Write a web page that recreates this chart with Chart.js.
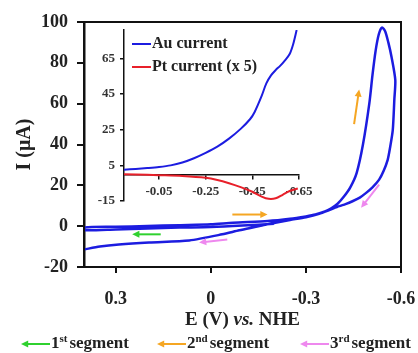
<!DOCTYPE html>
<html>
<head>
<meta charset="utf-8">
<script src="https://cdn.jsdelivr.net/npm/chart.js@4.4.0/dist/chart.umd.min.js"></script>
<style>
  body { margin: 0; background: #fff; }
  #wrap { position: relative; width: 418px; height: 353px; }
  #mainChart { position: absolute; left: 0; top: 0; }
  #insetChart { position: absolute; left: 64px; top: 8px; pointer-events: none; }
</style>
</head>
<body>
<div id="wrap">
  <canvas id="mainChart" width="418" height="353"></canvas>
  <canvas id="insetChart" width="260" height="210"></canvas>
</div>
<script>
// kurva CV utama: segmen 1 (ke kiri), segmen 2 (ke kanan), segmen 3 (kembali)
const cvPotential = [
  -0.20, -0.10, 0.00, 0.10, 0.20, 0.30, 0.40,
  0.40, 0.30, 0.20, 0.10, 0.00, -0.07, -0.18, -0.25, -0.30, -0.33, -0.36, -0.38, -0.40, -0.42,
  -0.44, -0.46, -0.48, -0.50, -0.51, -0.52, -0.53, -0.54, -0.55, -0.56, -0.57, -0.582,
  -0.579, -0.574, -0.565, -0.558, -0.545, -0.531, -0.51, -0.49, -0.47, -0.447, -0.425, -0.405,
  -0.37, -0.342, -0.30, -0.25, -0.216, -0.175, -0.142, -0.09, -0.036, 0.068, 0.195, 0.29, 0.35, 0.40
];
const cvCurrent = [
  1.2, 0.3, -0.4, -0.7, -1.1, -1.6, -2.0,
  -0.6, -0.3, 0.1, 0.5, 0.9, 1.7, 2.5, 3.6, 4.8, 5.7, 7.2, 8.8, 11.0, 14.5,
  19.0, 26.0, 40.0, 60.0, 74.0, 86.0, 94.0, 97.3, 95.5, 90.0, 83.0, 71.6,
  62.0, 47.0, 38.0, 32.5, 27.0, 22.8, 19.0, 16.3, 14.0, 12.2, 10.8, 9.8,
  7.6, 6.0, 4.4, 3.0, 2.0, 0.8, -0.3, -2.0, -4.0, -7.0, -8.0, -9.0, -10.0, -11.4
];
const mainTicksE = [0.3, 0, -0.3, -0.6];
const mainTicksI = [-20, 0, 20, 40, 60, 80, 100];

// inset: arus Au dan arus Pt (x 5)
const auPotential = [0.10, 0.05, 0.00, -0.05, -0.10, -0.15, -0.20, -0.25, -0.30, -0.35, -0.40, -0.44,
  -0.46, -0.49, -0.51, -0.53, -0.55, -0.57, -0.59, -0.61, -0.625, -0.64];
const auCurrent = [2.6, 3.0, 3.5, 4.1, 5.0, 6.6, 9.0, 12.0, 15.5, 20.0, 25.5, 30.9,
  35.0, 44.0, 51.0, 55.5, 58.5, 61.0, 64.0, 67.5, 73.0, 81.0];
const ptPotential = [0.10, 0.00, -0.05, -0.15, -0.25, -0.30, -0.35, -0.40, -0.45, -0.49, -0.52, -0.55, -0.58, -0.61, -0.645];
const ptCurrent = [0.0, -0.3, -0.5, -1.0, -2.0, -3.2, -5.0, -7.2, -9.8, -12.5, -13.8, -13.5, -11.5, -9.4, -8.0];
const insetTicksE = [-0.05, -0.25, -0.45, -0.65];
const insetTicksI = [-15, 5, 25, 45, 65];

const seriesNames = ['Au current', 'Pt current (x 5)'];
const segmentNums = ['1', '2', '3'];
const segmentSups = ['st', 'nd', 'rd'];

const SERIF = '"Liberation Serif", "DejaVu Serif", serif';
const BLUE = '#1c1ce0';
const RED = '#e8202a';
const segmentColors = ['#2fd12f', '#f5a623', '#ee88ee'];

// panah arah scan, dalam koordinat data (E, I)
const scanArrows = [
  { from: [0.158, -4.0], to: [0.248, -4.0], seg: 0 },
  { from: [-0.068, 5.7], to: [-0.179, 5.7], seg: 1 },
  { from: [-0.452, 50], to: [-0.468, 67], seg: 1 },
  { from: [-0.531, 20.3], to: [-0.474, 9.0], seg: 2 },
  { from: [-0.052, -6.5], to: [0.037, -8.0], seg: 2 }
];

function toPoints(xs, ys) {
  return xs.map((x, i) => ({ x: x, y: ys[i] }));
}

// buang padding label supaya chartArea pas dengan layout.padding
function noLabelPadding(s) {
  s.paddingLeft = 0;
  s.paddingRight = 0;
  s.paddingTop = 0;
  s.paddingBottom = 0;
}

function drawArrow(ctx, x1, y1, x2, y2, color) {
  const ang = Math.atan2(y2 - y1, x2 - x1);
  const head = 8;
  ctx.save();
  ctx.strokeStyle = color;
  ctx.fillStyle = color;
  ctx.lineWidth = 2;
  ctx.beginPath();
  ctx.moveTo(x1, y1);
  ctx.lineTo(x2 - Math.cos(ang) * head * 0.7, y2 - Math.sin(ang) * head * 0.7);
  ctx.stroke();
  ctx.beginPath();
  ctx.moveTo(x2, y2);
  ctx.lineTo(x2 - head * Math.cos(ang - 0.45), y2 - head * Math.sin(ang - 0.45));
  ctx.lineTo(x2 - head * Math.cos(ang + 0.45), y2 - head * Math.sin(ang + 0.45));
  ctx.closePath();
  ctx.fill();
  ctx.restore();
}

const mainDecor = {
  id: 'mainDecor',
  afterDraw(chart) {
    const { ctx, chartArea: a, scales } = chart;
    // bingkai
    ctx.save();
    ctx.strokeStyle = '#111';
    ctx.lineWidth = 2;
    ctx.strokeRect(a.left, a.top, a.right - a.left, a.bottom - a.top);
    ctx.restore();

    scanArrows.forEach((ar) => {
      drawArrow(ctx,
        scales.x.getPixelForValue(ar.from[0]), scales.y.getPixelForValue(ar.from[1]),
        scales.x.getPixelForValue(ar.to[0]), scales.y.getPixelForValue(ar.to[1]),
        segmentColors[ar.seg]);
    });

    // judul sumbu x: E (V) vs. NHE
    const parts = [['E (V) ', 'bold'], ['vs.', 'italic bold'], [' NHE', 'bold']];
    ctx.save();
    ctx.fillStyle = '#222';
    ctx.textBaseline = 'middle';
    let total = 0;
    parts.forEach((p) => { ctx.font = p[1] + ' 19px ' + SERIF; total += ctx.measureText(p[0]).width; });
    let x = (a.left + a.right) / 2 - total / 2;
    parts.forEach((p) => {
      ctx.font = p[1] + ' 19px ' + SERIF;
      ctx.fillText(p[0], x, 320);
      x += ctx.measureText(p[0]).width;
    });

    // legenda segmen
    const starts = [21, 157, 300];
    const arrowLen = 29;
    segmentNums.forEach((n, i) => {
      const y = 344;
      drawArrow(ctx, starts[i] + arrowLen, y, starts[i], y, segmentColors[i]);
      let tx = starts[i] + arrowLen + 1;
      ctx.fillStyle = '#222';
      ctx.font = 'bold 17px ' + SERIF;
      ctx.fillText(n, tx, y);
      tx += ctx.measureText(n).width;
      ctx.font = 'bold 11px ' + SERIF;
      ctx.fillText(segmentSups[i], tx, y - 5);
      tx += ctx.measureText(segmentSups[i]).width + 2;
      ctx.font = 'bold 17px ' + SERIF;
      ctx.fillText('segment', tx, y);
    });
    ctx.restore();
  }
};

new Chart(document.getElementById('mainChart'), {
  type: 'scatter',
  data: {
    datasets: [{
      data: toPoints(cvPotential, cvCurrent),
      showLine: true,
      borderColor: BLUE,
      borderWidth: 2.5,
      pointRadius: 0,
      tension: 0.25,
      fill: false
    }]
  },
  options: {
    responsive: false,
    animation: false,
    layout: { padding: { top: 22, right: 17, bottom: 44, left: 0 } },
    plugins: { legend: { display: false }, tooltip: { enabled: false } },
    scales: {
      x: {
        type: 'linear',
        reverse: true,
        min: -0.6,
        max: 0.4,
        afterBuildTicks: (s) => { s.ticks = mainTicksE.map((v) => ({ value: v })); },
        afterFit: (s) => { s.height = 42; noLabelPadding(s); },
        grid: { drawOnChartArea: false, drawTicks: true, tickLength: 6, color: '#111', lineWidth: 2 },
        border: { display: true, color: '#111', width: 2 },
        ticks: {
          color: '#222', padding: 16, maxRotation: 0, autoSkip: false,
          font: { family: SERIF, size: 18, weight: 'bold' },
          callback: (v) => String(v)
        }
      },
      y: {
        type: 'linear',
        min: -20,
        max: 100,
        afterBuildTicks: (s) => { s.ticks = mainTicksI.map((v) => ({ value: v })); },
        afterFit: (s) => { s.width = 84; noLabelPadding(s); },
        grid: { drawOnChartArea: false, drawTicks: true, tickLength: 7, color: '#111', lineWidth: 2 },
        border: { display: true, color: '#111', width: 2.5 },
        title: {
          display: true, text: 'I (μA)', color: '#222',
          font: { family: SERIF, size: 20, weight: 'bold' },
          padding: { top: 13, bottom: 0 }
        },
        ticks: {
          color: '#222', padding: 9,
          font: { family: SERIF, size: 18, weight: 'bold' },
          callback: (v) => String(v)
        }
      }
    }
  },
  plugins: [mainDecor]
});

const insetLegend = {
  id: 'insetLegend',
  afterDraw(chart) {
    const { ctx, chartArea: a } = chart;
    const colors = [BLUE, RED];
    ctx.save();
    ctx.textBaseline = 'middle';
    ctx.font = 'bold 16px ' + SERIF;
    seriesNames.forEach((name, i) => {
      const y = a.top + 14 + i * 23;
      ctx.strokeStyle = colors[i];
      ctx.lineWidth = 2;
      ctx.beginPath();
      ctx.moveTo(a.left + 8, y);
      ctx.lineTo(a.left + 27, y);
      ctx.stroke();
      ctx.fillStyle = '#222';
      ctx.fillText(name, a.left + 28, y);
    });
    ctx.restore();
  }
};

new Chart(document.getElementById('insetChart'), {
  type: 'scatter',
  data: {
    datasets: [
      { data: toPoints(auPotential, auCurrent), showLine: true, borderColor: BLUE, borderWidth: 2, pointRadius: 0, tension: 0.3 },
      { data: toPoints(ptPotential, ptCurrent), showLine: true, borderColor: RED, borderWidth: 2, pointRadius: 0, tension: 0.3 }
    ]
  },
  options: {
    responsive: false,
    animation: false,
    layout: { padding: { top: 22, right: 25, bottom: 17, left: 0 } },
    plugins: { legend: { display: false }, tooltip: { enabled: false } },
    scales: {
      x: {
        type: 'linear',
        reverse: true,
        min: -0.65,
        max: 0.1,
        position: { y: 0 },
        afterBuildTicks: (s) => { s.ticks = insetTicksE.map((v) => ({ value: v })); },
        afterFit: noLabelPadding,
        grid: { drawOnChartArea: false, drawTicks: true, tickLength: 4, color: '#111', lineWidth: 1.5 },
        border: { display: true, color: '#111', width: 1.5 },
        ticks: {
          color: '#333', padding: 6, maxRotation: 0, autoSkip: false,
          font: { family: SERIF, size: 13, weight: 'bold' },
          callback: (v) => String(v)
        }
      },
      y: {
        type: 'linear',
        min: -15,
        max: 81,
        afterBuildTicks: (s) => { s.ticks = insetTicksI.map((v) => ({ value: v })); },
        afterFit: (s) => { s.width = 60; noLabelPadding(s); },
        grid: { drawOnChartArea: false, drawTicks: true, tickLength: 4, color: '#111', lineWidth: 1.5 },
        border: { display: true, color: '#111', width: 1.5 },
        ticks: {
          color: '#333', padding: 5,
          font: { family: SERIF, size: 13, weight: 'bold' },
          callback: (v) => String(v)
        }
      }
    }
  },
  plugins: [insetLegend]
});
</script>
</body>
</html>
